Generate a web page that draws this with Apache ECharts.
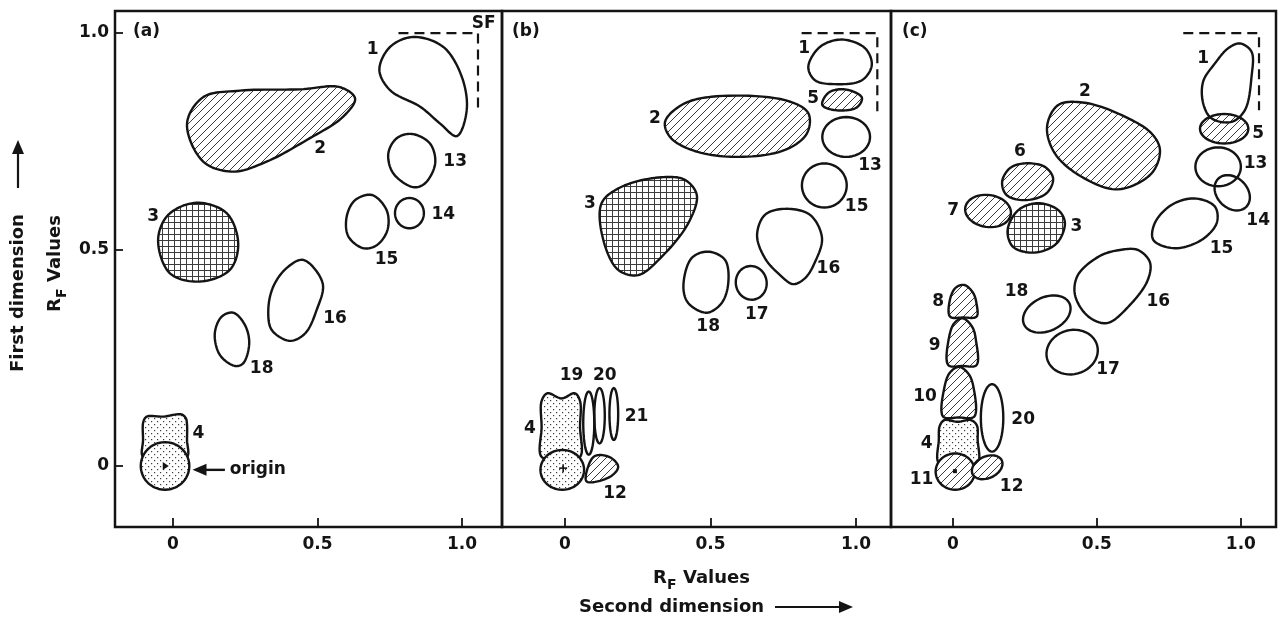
<!DOCTYPE html>
<html>
<head>
<meta charset="utf-8">
<script src="https://cdn.jsdelivr.net/npm/echarts@6/dist/echarts.min.js"></script>
<style>
  html, body { margin: 0; padding: 0; background: #fff; }
  #chart { width: 1282px; height: 622px; }
</style>
</head>
<body>
<div id="chart"></div>
<script>
// Rf tick values, both dimensions
const xTicks = [0, 0.5, 1.0]
const yTicks = [0, 0.5, 1.0]

// x extent of each panel, y extent shared (Rf units)
const xRanges = [[-0.2, 1.138], [-0.216, 1.12], [-0.215, 1.122]]
const yRange = [-0.141, 1.051]
const panelNames = ['(a)', '(b)', '(c)']

// spots: outline points [x, y] or oval [cx, cy, rx, ry, tiltDeg]
const spotsA = [
  { n: '1', pts: [[0.831, 0.991], [0.935, 0.968], [0.999, 0.899], [1.016, 0.822], [0.982, 0.762], [0.924, 0.791], [0.855, 0.830], [0.751, 0.868], [0.714, 0.915], [0.751, 0.968]] },
  { n: '2', pts: [[0.049, 0.791], [0.105, 0.852], [0.232, 0.867], [0.439, 0.870], [0.578, 0.875], [0.630, 0.849], [0.589, 0.807], [0.463, 0.753], [0.324, 0.703], [0.209, 0.680], [0.105, 0.703]] },
  { n: '3', pts: [[0.082, 0.608], [0.186, 0.584], [0.226, 0.514], [0.197, 0.453], [0.093, 0.426], [-0.010, 0.445], [-0.051, 0.522], [-0.016, 0.580]] },
  { n: '13', pts: [[0.826, 0.767], [0.889, 0.745], [0.907, 0.699], [0.872, 0.653], [0.832, 0.644], [0.762, 0.676], [0.745, 0.722], [0.774, 0.757]] },
  { n: '14', oval: [0.818, 0.584, 0.050, 0.035, 0] },
  { n: '15', pts: [[0.688, 0.626], [0.739, 0.591], [0.742, 0.545], [0.705, 0.510], [0.659, 0.503], [0.607, 0.530], [0.601, 0.576], [0.630, 0.614]] },
  { n: '16', pts: [[0.451, 0.476], [0.518, 0.422], [0.497, 0.360], [0.457, 0.306], [0.405, 0.289], [0.342, 0.314], [0.330, 0.360], [0.347, 0.414], [0.393, 0.457]] },
  { n: '18', pts: [[0.209, 0.354], [0.249, 0.326], [0.264, 0.283], [0.243, 0.237], [0.215, 0.231], [0.163, 0.256], [0.145, 0.306], [0.169, 0.345]] },
  { n: '4', pts: [[-0.103, 0.021], [-0.103, 0.060], [-0.102, 0.102], [-0.090, 0.114], [-0.034, 0.114], [0.030, 0.119], [0.045, 0.110], [0.049, 0.095], [0.049, 0.060], [0.049, 0.021], [-0.027, 0.018]] },
  { n: 'origin', oval: [-0.027, 0.0, 0.084, 0.055, 0] }
]
const spotsB = [
  { n: '1', pts: [[0.951, 0.985], [1.031, 0.965], [1.054, 0.926], [1.020, 0.891], [0.928, 0.882], [0.859, 0.891], [0.836, 0.922], [0.876, 0.968]] },
  { n: '5', pts: [[0.962, 0.870], [1.020, 0.851], [1.002, 0.828], [0.928, 0.822], [0.884, 0.834], [0.905, 0.862]] },
  { n: '2', pts: [[0.344, 0.795], [0.401, 0.834], [0.504, 0.853], [0.756, 0.845], [0.836, 0.815], [0.831, 0.768], [0.756, 0.730], [0.584, 0.714], [0.435, 0.730], [0.361, 0.760]] },
  { n: '13', oval: [0.966, 0.760, 0.082, 0.046, 0] },
  { n: '15', oval: [0.891, 0.648, 0.077, 0.051, 0] },
  { n: '3', pts: [[0.126, 0.607], [0.195, 0.645], [0.332, 0.667], [0.412, 0.661], [0.453, 0.626], [0.424, 0.561], [0.332, 0.483], [0.252, 0.441], [0.183, 0.453], [0.132, 0.522]] },
  { n: '16', pts: [[0.756, 0.594], [0.842, 0.580], [0.883, 0.527], [0.859, 0.471], [0.825, 0.434], [0.784, 0.420], [0.739, 0.441], [0.687, 0.480], [0.660, 0.533], [0.687, 0.580]] },
  { n: '18', pts: [[0.492, 0.495], [0.550, 0.476], [0.561, 0.422], [0.538, 0.376], [0.487, 0.354], [0.424, 0.376], [0.407, 0.414], [0.435, 0.480]] },
  { n: '17', oval: [0.640, 0.423, 0.053, 0.039, 10] },
  { n: '19', oval: [0.082, 0.099, 0.019, 0.073, 0] },
  { n: '20', oval: [0.119, 0.116, 0.018, 0.064, 0] },
  { n: '21', oval: [0.168, 0.120, 0.015, 0.060, 0] },
  { n: '12', pts: [[0.103, 0.023], [0.155, 0.020], [0.183, -0.002], [0.155, -0.025], [0.075, -0.036], [0.078, -0.005]] },
  { n: '4', pts: [[-0.080, 0.021], [-0.080, 0.090], [-0.080, 0.150], [-0.060, 0.168], [-0.011, 0.156], [0.034, 0.168], [0.052, 0.150], [0.052, 0.090], [0.052, 0.021], [-0.009, 0.018]] },
  { n: 'origin', oval: [-0.009, -0.009, 0.075, 0.046, 0] }
]
const spotsC = [
  { n: '5', oval: [0.942, 0.779, 0.084, 0.034, 0] },
  { n: '1', pts: [[0.997, 0.976], [1.037, 0.957], [1.037, 0.899], [1.014, 0.822], [0.968, 0.795], [0.898, 0.803], [0.869, 0.838], [0.869, 0.888], [0.910, 0.930], [0.956, 0.965]] },
  { n: '13', oval: [0.921, 0.691, 0.079, 0.045, 0] },
  { n: '14', oval: [0.970, 0.631, 0.069, 0.035, -45] },
  { n: '15', pts: [[0.701, 0.561], [0.759, 0.603], [0.840, 0.618], [0.910, 0.599], [0.916, 0.561], [0.863, 0.522], [0.771, 0.503], [0.696, 0.522]] },
  { n: '2', pts: [[0.366, 0.834], [0.458, 0.839], [0.597, 0.807], [0.690, 0.768], [0.719, 0.730], [0.690, 0.676], [0.574, 0.639], [0.447, 0.668], [0.354, 0.722], [0.327, 0.784]] },
  { n: '6', pts: [[0.250, 0.699], [0.319, 0.691], [0.348, 0.664], [0.325, 0.630], [0.250, 0.614], [0.186, 0.626], [0.171, 0.657], [0.198, 0.688]] },
  { n: '7', oval: [0.122, 0.589, 0.080, 0.037, -8] },
  { n: '3', pts: [[0.296, 0.607], [0.366, 0.591], [0.389, 0.561], [0.360, 0.514], [0.285, 0.493], [0.209, 0.506], [0.190, 0.545], [0.227, 0.591]] },
  { n: '16', pts: [[0.642, 0.499], [0.684, 0.471], [0.677, 0.430], [0.615, 0.372], [0.535, 0.330], [0.469, 0.346], [0.424, 0.395], [0.434, 0.441], [0.510, 0.485], [0.580, 0.499]] },
  { n: '18', oval: [0.326, 0.351, 0.087, 0.039, 25] },
  { n: '17', oval: [0.414, 0.263, 0.090, 0.051, 15] },
  { n: '8', pts: [[-0.010, 0.345], [-0.010, 0.385], [0.010, 0.412], [0.040, 0.418], [0.070, 0.400], [0.082, 0.375], [0.082, 0.345], [0.036, 0.343]] },
  { n: '9', pts: [[-0.016, 0.233], [-0.014, 0.295], [0.005, 0.330], [0.035, 0.341], [0.068, 0.320], [0.080, 0.290], [0.082, 0.233], [0.033, 0.231]] },
  { n: '10', pts: [[-0.034, 0.114], [-0.030, 0.180], [-0.010, 0.216], [0.022, 0.229], [0.055, 0.212], [0.072, 0.180], [0.074, 0.114], [0.020, 0.112]] },
  { n: '20', oval: [0.136, 0.111, 0.039, 0.078, 0] },
  { n: '4', pts: [[-0.049, 0.007], [-0.049, 0.060], [-0.046, 0.092], [-0.030, 0.106], [0.017, 0.102], [0.062, 0.106], [0.083, 0.094], [0.086, 0.060], [0.086, 0.007], [0.018, 0.004]] },
  { n: '11', oval: [0.008, -0.013, 0.068, 0.042, 0] },
  { n: '12', oval: [0.119, -0.003, 0.056, 0.025, 25] }
]

// which spots carry a fill pattern
const fillsA = { '2': 'hatch', '3': 'grid', '4': 'dots', 'origin': 'dots' }
const fillsB = { '2': 'hatch', '3': 'grid', '4': 'dots', 'origin': 'dots', '5': 'hatch', '12': 'hatch' }
const fillsC = { '2': 'hatch', '3': 'grid', '4': 'dots', '5': 'hatch', '6': 'hatch', '7': 'hatch', '8': 'hatch', '9': 'hatch', '10': 'hatch', '11': 'hatch', '12': 'hatch' }

// spot numbers [text, x, y]
const labelsA = [['1', 0.691, 0.962], ['2', 0.509, 0.734], ['3', -0.068, 0.576], ['13', 0.976, 0.703], ['14', 0.935, 0.580], ['15', 0.739, 0.476], ['16', 0.561, 0.341], ['18', 0.307, 0.226], ['4', 0.088, 0.075], ['SF', 1.075, 1.023]]
const labelsB = [['1', 0.822, 0.965], ['5', 0.853, 0.849], ['2', 0.309, 0.803], ['13', 1.048, 0.695], ['15', 1.002, 0.599], ['3', 0.086, 0.607], ['16', 0.905, 0.457], ['18', 0.492, 0.322], ['17', 0.659, 0.349], ['4', -0.120, 0.087], ['12', 0.172, -0.063], ['19', 0.023, 0.208], ['20', 0.137, 0.208], ['21', 0.246, 0.114]]
const labelsC = [['1', 0.869, 0.942], ['5', 1.060, 0.768], ['13', 1.051, 0.699], ['14', 1.060, 0.568], ['15', 0.933, 0.503], ['2', 0.458, 0.864], ['6', 0.233, 0.726], ['7', 0.001, 0.591], ['3', 0.429, 0.553], ['16', 0.713, 0.379], ['18', 0.221, 0.403], ['17', 0.539, 0.222], ['8', -0.051, 0.379], ['9', -0.063, 0.279], ['10', -0.097, 0.160], ['4', -0.091, 0.052], ['11', -0.109, -0.032], ['12', 0.204, -0.048], ['20', 0.244, 0.106]]

// solvent front corner
const sfA = [[0.780, 1.0], [1.055, 1.0], [1.055, 0.826]]
const sfB = [[0.813, 1.0], [1.073, 1.0], [1.073, 0.818]]
const sfC = [[0.800, 1.0], [1.063, 1.0], [1.063, 0.822]]

// application point in each panel, origin arrow in (a)
const originMarks = [[-0.028, 0.0], [-0.006, -0.005], [0.007, -0.012]]
const originArrow = [[0.180, -0.009], [0.068, -0.009]]
const originText = ['origin', 0.197, -0.009]

const FONT = '"DejaVu Sans", "Liberation Sans", sans-serif'
const INK = '#141414'

function makePattern(kind) {
  const c = document.createElement('canvas')
  const n = kind === 'hatch' ? 8 : 6
  c.width = c.height = n
  const g = c.getContext('2d')
  g.fillStyle = '#fff'
  g.fillRect(0, 0, n, n)
  g.strokeStyle = '#3c3c3c'
  g.fillStyle = '#3c3c3c'
  g.lineWidth = 1
  if (kind === 'hatch') {
    g.beginPath()
    g.moveTo(0, n); g.lineTo(n, 0)
    g.moveTo(-2, 2); g.lineTo(2, -2)
    g.moveTo(n - 2, n + 2); g.lineTo(n + 2, n - 2)
    g.stroke()
  } else if (kind === 'grid') {
    g.beginPath()
    g.moveTo(0.5, 0); g.lineTo(0.5, n)
    g.moveTo(0, 0.5); g.lineTo(n, 0.5)
    g.stroke()
  } else {
    g.fillRect(1, 1, 1.2, 1.2)
    g.fillRect(4, 4, 1.2, 1.2)
  }
  return { image: c, repeat: 'repeat' }
}
const patterns = { hatch: makePattern('hatch'), grid: makePattern('grid'), dots: makePattern('dots') }

// closed centripetal catmull-rom through the outline (pixel space)
function closedSpline(pts, steps) {
  const out = []
  const L = pts.length
  const gap = (a, b) => Math.sqrt(Math.hypot(b[0] - a[0], b[1] - a[1])) || 1e-4
  const lerp = (a, b, ta, tb, t) => {
    const u = (t - ta) / (tb - ta)
    return [a[0] + (b[0] - a[0]) * u, a[1] + (b[1] - a[1]) * u]
  }
  for (let i = 0; i < L; i++) {
    const p0 = pts[(i - 1 + L) % L], p1 = pts[i], p2 = pts[(i + 1) % L], p3 = pts[(i + 2) % L]
    const t0 = 0, t1 = t0 + gap(p0, p1), t2 = t1 + gap(p1, p2), t3 = t2 + gap(p2, p3)
    for (let k = 0; k < steps; k++) {
      const t = t1 + ((t2 - t1) * k) / steps
      const a1 = lerp(p0, p1, t0, t1, t), a2 = lerp(p1, p2, t1, t2, t), a3 = lerp(p2, p3, t2, t3, t)
      const b1 = lerp(a1, a2, t0, t2, t), b2 = lerp(a2, a3, t1, t3, t)
      out.push(lerp(b1, b2, t1, t2, t))
    }
  }
  return out
}

const chart = echarts.init(document.getElementById('chart'))

const gridBoxes = [
  { left: 115, width: 387 },
  { left: 502, width: 389 },
  { left: 891, width: 385 }
]

function spotSeries(idx, spots, fills) {
  return {
    type: 'custom',
    xAxisIndex: idx,
    yAxisIndex: idx,
    silent: true,
    data: spots.map((s) => (s.pts ? s.pts[0] : [s.oval[0], s.oval[1]])),
    renderItem: (params, api) => {
      const s = spots[params.dataIndex]
      let pts
      if (s.pts) {
        pts = closedSpline(s.pts.map((p) => api.coord(p)), 12)
      } else {
        const c = api.coord([s.oval[0], s.oval[1]])
        const r = api.size([s.oval[2], s.oval[3]])
        const a = (s.oval[4] * Math.PI) / 180
        pts = []
        for (let k = 0; k < 48; k++) {
          const t = (k / 48) * Math.PI * 2
          const ex = r[0] * Math.cos(t)
          const ey = r[1] * Math.sin(t)
          pts.push([c[0] + ex * Math.cos(a) - ey * Math.sin(a), c[1] - (ex * Math.sin(a) + ey * Math.cos(a))])
        }
      }
      return {
        type: 'polygon',
        shape: { points: pts },
        style: { fill: fills[s.n] ? patterns[fills[s.n]] : 'none', stroke: INK, lineWidth: 2.4, lineJoin: 'round' }
      }
    }
  }
}

function labelSeries(idx, labels) {
  return {
    type: 'custom',
    xAxisIndex: idx,
    yAxisIndex: idx,
    silent: true,
    data: labels.map((l) => [l[1], l[2]]),
    renderItem: (params, api) => {
      const l = labels[params.dataIndex]
      const p = api.coord([l[1], l[2]])
      return {
        type: 'text',
        x: p[0],
        y: p[1],
        style: { text: l[0], font: 'bold 17px ' + FONT, fill: INK, align: 'center', verticalAlign: 'middle', textAlign: 'center', textVerticalAlign: 'middle' }
      }
    }
  }
}

function sfSeries(idx, sf) {
  return {
    type: 'line',
    xAxisIndex: idx,
    yAxisIndex: idx,
    silent: true,
    symbol: 'none',
    data: sf,
    lineStyle: { color: INK, width: 2.2, type: [10, 6] }
  }
}

const markSeries = {
  type: 'custom',
  silent: true,
  xAxisIndex: 0,
  yAxisIndex: 0,
  data: [originArrow[0]],
  renderItem: (params, api) => {
    const a = api.coord(originArrow[0])
    const b = api.coord(originArrow[1])
    const t = api.coord([originText[1], originText[2]])
    return {
      type: 'group',
      children: [
        { type: 'line', shape: { x1: a[0], y1: a[1], x2: b[0] + 10, y2: b[1] }, style: { stroke: INK, lineWidth: 2.4 } },
        { type: 'polygon', shape: { points: [[b[0], b[1]], [b[0] + 14, b[1] - 6], [b[0] + 14, b[1] + 6]] }, style: { fill: INK } },
        { type: 'text', x: t[0], y: t[1], style: { text: originText[0], font: 'bold 17px ' + FONT, fill: INK, align: 'left', verticalAlign: 'middle', textAlign: 'left', textVerticalAlign: 'middle' } }
      ]
    }
  }
}

function originSeries(idx) {
  return {
    type: 'custom',
    silent: true,
    xAxisIndex: idx,
    yAxisIndex: idx,
    data: [originMarks[idx]],
    renderItem: (params, api) => {
      const p = api.coord(originMarks[idx])
      if (idx === 0) {
        return { type: 'polygon', shape: { points: [[p[0] - 2, p[1] - 4], [p[0] + 4, p[1]], [p[0] - 2, p[1] + 4]] }, style: { fill: INK } }
      }
      if (idx === 1) {
        return {
          type: 'group',
          children: [
            { type: 'line', shape: { x1: p[0] - 4, y1: p[1], x2: p[0] + 4, y2: p[1] }, style: { stroke: INK, lineWidth: 1.6 } },
            { type: 'line', shape: { x1: p[0], y1: p[1] - 4, x2: p[0], y2: p[1] + 4 }, style: { stroke: INK, lineWidth: 1.6 } }
          ]
        }
      }
      return { type: 'rect', shape: { x: p[0] - 2, y: p[1] - 2, width: 4, height: 4 }, style: { fill: INK } }
    }
  }
}

const fmt = (v) => (v === 0 ? '0' : v.toFixed(1))

const option = {
  animation: false,
  backgroundColor: '#fff',
  textStyle: { fontFamily: FONT },
  grid: gridBoxes.map((g) => ({
    left: g.left,
    width: g.width,
    top: 11,
    bottom: 95,
    show: true,
    borderColor: INK,
    borderWidth: 2.5,
    backgroundColor: 'transparent'
  })),
  xAxis: xRanges.map((r, i) => ({
    type: 'value',
    gridIndex: i,
    min: r[0],
    max: r[1],
    position: 'bottom',
    splitLine: { show: false },
    axisLine: { show: false, onZero: false },
    axisTick: { show: true, inside: true, length: 9, customValues: xTicks, lineStyle: { color: INK, width: 1.8 } },
    axisLabel: { customValues: xTicks, formatter: fmt, margin: 9, fontSize: 17, fontWeight: 'bold', color: INK, fontFamily: FONT }
  })),
  yAxis: xRanges.map((r, i) => ({
    type: 'value',
    gridIndex: i,
    min: yRange[0],
    max: yRange[1],
    position: 'left',
    splitLine: { show: false },
    axisLine: { show: false, onZero: false },
    axisTick: { show: i === 0, inside: true, length: 8, customValues: yTicks, lineStyle: { color: INK, width: 1.8 } },
    axisLabel: { show: i === 0, customValues: yTicks, formatter: fmt, margin: 6, fontSize: 17, fontWeight: 'bold', color: INK, fontFamily: FONT }
  })),
  graphic: [
    ...panelNames.map((t, i) => ({
      type: 'text', x: [133, 512, 902][i], y: 32,
      style: { text: t, font: 'bold 17px ' + FONT, fill: INK, verticalAlign: 'middle' }
    })),
    {
      type: 'group', x: 653, y: 578,
      children: [
        { type: 'text', x: 0, y: 0, style: { text: 'R', font: 'bold 18px ' + FONT, fill: INK, verticalAlign: 'middle' } },
        { type: 'text', x: 14, y: 7, style: { text: 'F', font: 'bold 14px ' + FONT, fill: INK, verticalAlign: 'middle' } },
        { type: 'text', x: 30, y: 0, style: { text: 'Values', font: 'bold 18px ' + FONT, fill: INK, verticalAlign: 'middle' } }
      ]
    },
    {
      type: 'group', x: 579, y: 607,
      children: [
        { type: 'text', x: 0, y: 0, style: { text: 'Second dimension', font: 'bold 18px ' + FONT, fill: INK, verticalAlign: 'middle' } },
        { type: 'line', shape: { x1: 196, y1: 0, x2: 264, y2: 0 }, style: { stroke: INK, lineWidth: 2.2 } },
        { type: 'polygon', shape: { points: [[260, -6], [274, 0], [260, 6]] }, style: { fill: INK } }
      ]
    },
    {
      type: 'group', x: 55, y: 312, rotation: Math.PI / 2,
      children: [
        { type: 'text', x: 0, y: 0, style: { text: 'R', font: 'bold 18px ' + FONT, fill: INK, verticalAlign: 'middle' } },
        { type: 'text', x: 14, y: 7, style: { text: 'F', font: 'bold 14px ' + FONT, fill: INK, verticalAlign: 'middle' } },
        { type: 'text', x: 30, y: 0, style: { text: 'Values', font: 'bold 18px ' + FONT, fill: INK, verticalAlign: 'middle' } }
      ]
    },
    {
      type: 'group', x: 18, y: 372, rotation: Math.PI / 2,
      children: [
        { type: 'text', x: 0, y: 0, style: { text: 'First dimension', font: 'bold 18px ' + FONT, fill: INK, verticalAlign: 'middle' } },
        { type: 'line', shape: { x1: 184, y1: 0, x2: 222, y2: 0 }, style: { stroke: INK, lineWidth: 2.2 } },
        { type: 'polygon', shape: { points: [[218, -6], [232, 0], [218, 6]] }, style: { fill: INK } }
      ]
    }
  ],
  series: [
    spotSeries(0, spotsA, fillsA),
    spotSeries(1, spotsB, fillsB),
    spotSeries(2, spotsC, fillsC),
    sfSeries(0, sfA),
    sfSeries(1, sfB),
    sfSeries(2, sfC),
    labelSeries(0, labelsA),
    labelSeries(1, labelsB),
    labelSeries(2, labelsC),
    markSeries,
    originSeries(0),
    originSeries(1),
    originSeries(2)
  ]
}

chart.setOption(option)
</script>
</body>
</html>
